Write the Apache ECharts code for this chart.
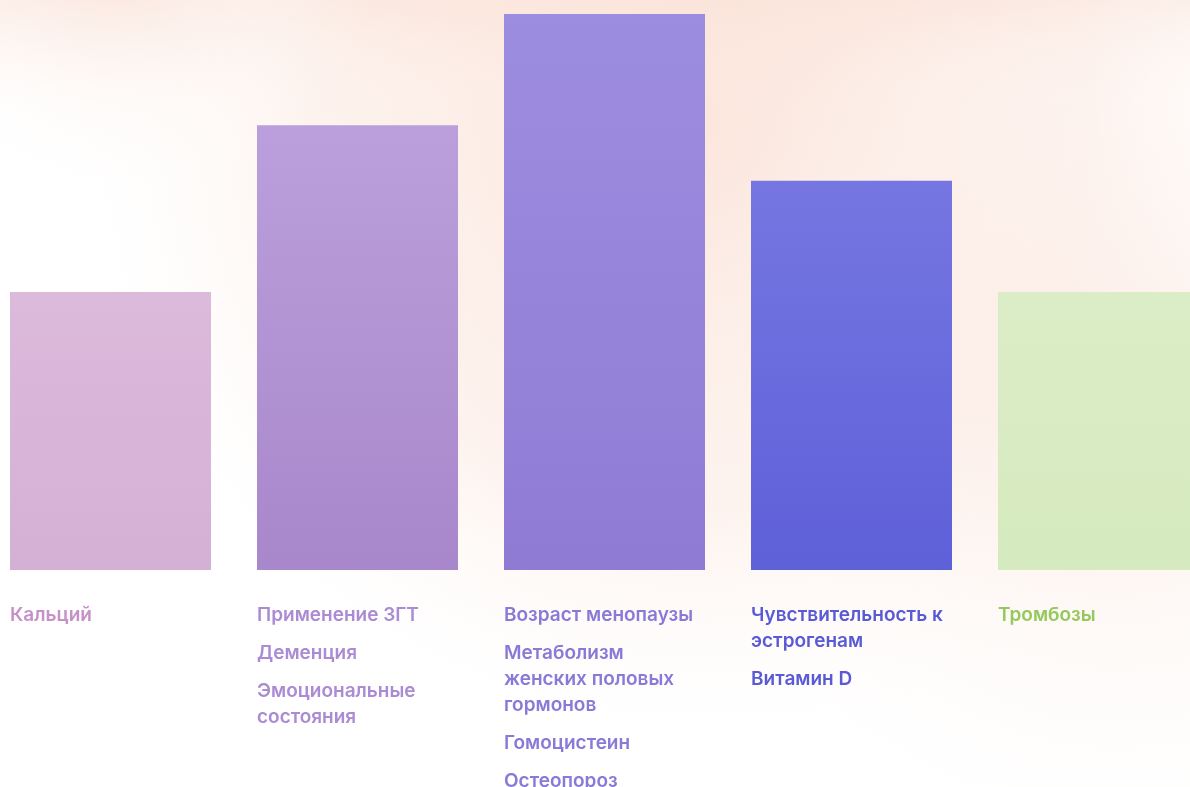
<!DOCTYPE html>
<html>
<head>
<meta charset="utf-8">
<style>
html,body{margin:0;padding:0;background:#fff;}
#chart{width:1190px;height:787px;}
</style>
<script src="https://cdn.jsdelivr.net/npm/echarts@6/dist/echarts.min.js"></script>
</head>
<body>
<div id="chart"></div>
<script>
const categories = ['Кальций', 'ЗГТ', 'Менопауза', 'Эстрогены', 'Тромбозы'];
const values = [50, 80, 100, 70, 50];
const factorLabels = [
  ['Кальций'],
  ['Применение ЗГТ', 'Деменция', 'Эмоциональные\nсостояния'],
  ['Возраст менопаузы', 'Метаболизм\nженских половых\nгормонов', 'Гомоцистеин', 'Остеопороз'],
  ['Чувствительность к\nэстрогенам', 'Витамин D'],
  ['Тромбозы']
];
const barColorsTop = ['#dcbadc', '#bb9fdc', '#9d8de0', '#7676e2', '#dbedc6'];
const barColorsBottom = ['#d5b0d5', '#a887ca', '#8f7bd4', '#5e60d8', '#d6eabf'];
const labelColors = ['#c690c8', '#ab8bd3', '#8a7ad8', '#5a5ad6', '#95c95c'];

const chart = echarts.init(document.getElementById('chart'));

const data = values.map((v, i) => ({
  value: v,
  itemStyle: {
    color: new echarts.graphic.LinearGradient(0, 0, 0, 1, [
      {offset: 0, color: barColorsTop[i]},
      {offset: 1, color: barColorsBottom[i]}
    ])
  },
  label: {
    color: labelColors[i],
    rich: {
      t: {color: labelColors[i], fontSize: 19, fontWeight: 600, lineHeight: 26, fontFamily: 'Inter'},
      g: {fontSize: 1, lineHeight: 12}
    }
  }
}));

chart.setOption({
  animation: false,
  backgroundColor: 'transparent',
  graphic: [
    {type: 'rect', z: -10, shape: {x: 0, y: 0, width: 1190, height: 787}, style: {fill: '#ffffff'}, silent: true},
    {type: 'rect', z: -9, shape: {x: 0, y: 0, width: 1190, height: 120}, silent: true,
      style: {fill: new echarts.graphic.LinearGradient(0, 0, 0, 1, [
        {offset: 0, color: 'rgba(251,232,224,0.8)'},
        {offset: 1, color: 'rgba(255,255,255,0)'}])}},
    {type: 'circle', z: -9, shape: {cx: 700, cy: 120, r: 650}, silent: true,
      style: {fill: new echarts.graphic.RadialGradient(0.5, 0.5, 0.5, [
        {offset: 0, color: 'rgba(250,222,210,0.75)'},
        {offset: 0.6, color: 'rgba(251,230,220,0.5)'},
        {offset: 1, color: 'rgba(255,255,255,0)'}])}},
    {type: 'circle', z: -9, shape: {cx: 1120, cy: 420, r: 480}, silent: true,
      style: {fill: new echarts.graphic.RadialGradient(0.5, 0.5, 0.5, [
        {offset: 0, color: 'rgba(250,225,214,0.6)'},
        {offset: 1, color: 'rgba(255,255,255,0)'}])}},
    {type: 'circle', z: -9, shape: {cx: 120, cy: -40, r: 260}, silent: true,
      style: {fill: new echarts.graphic.RadialGradient(0.5, 0.5, 0.5, [
        {offset: 0, color: 'rgba(250,228,218,0.7)'},
        {offset: 1, color: 'rgba(255,255,255,0)'}])}}
  ],
  grid: {left: -13, right: -32, top: 14, bottom: 217, containLabel: false, outerBoundsMode: 'none'},
  xAxis: {
    type: 'category',
    data: categories,
    axisLine: {show: false},
    axisTick: {show: false},
    axisLabel: {show: false},
    splitLine: {show: false}
  },
  yAxis: {
    type: 'value',
    min: 0,
    max: 100,
    show: false,
    splitLine: {show: false}
  },
  series: [{
    type: 'bar',
    data: data,
    barWidth: 201,
    label: {
      show: true,
      position: [0, '100%'],
      offset: [0, 32],
      align: 'left',
      verticalAlign: 'top',
      fontFamily: 'Inter',
      fontSize: 19,
      fontWeight: 600,
      formatter: function (p) {
        return factorLabels[p.dataIndex].map(s => '{t|' + s + '}').join('\n{g| }\n');
      }
    }
  }]
});
</script>
</body>
</html>
